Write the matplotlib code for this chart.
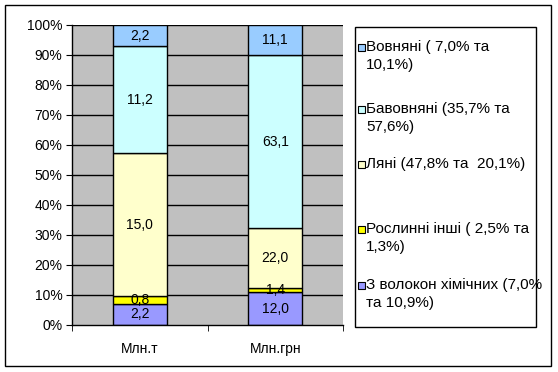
import matplotlib.pyplot as plt
from matplotlib.patches import Rectangle
import numpy as np

plt.rcParams['font.family'] = ['Liberation Sans', 'DejaVu Sans']

categories = ["Млн.т", "Млн.грн"]
series_names = [
    "З волокон хімічних (7,0%\nта 10,9%)",
    "Рослинні інші ( 2,5% та\n1,3%)",
    "Ляні (47,8% та  20,1%)",
    "Бавовняні (35,7% та\n57,6%)",
    "Вовняні ( 7,0% та\n10,1%)",
]
# absolute values per category (bottom to top)
chem = [2.2, 12.0]
plant_other = [0.8, 1.4]
flax = [15.0, 22.0]
cotton = [11.2, 63.1]
wool = [2.2, 11.1]
series = [chem, plant_other, flax, cotton, wool]
colors = ["#9999FF", "#FFFF00", "#FFFFCC", "#CCFFFF", "#99CCFF"]

W, H = 558, 372
fig = plt.figure(figsize=(W / 100, H / 100), dpi=100)
ax = fig.add_axes([72 / W, (H - 325) / H, (343 - 72) / W, 300 / H])
ax.set_facecolor("#C0C0C0")

vals = np.array(series)
totals = vals.sum(axis=0)
shares = vals / totals * 100
x = np.arange(len(categories))

# gridlines behind the bars
for g in range(10, 101, 10):
    ax.axhline(g, color="black", lw=1, zorder=1)

bottom = np.zeros(len(categories))
for s, share, c in zip(vals, shares, colors):
    ax.bar(x, share, bottom=bottom, width=0.4, color=c, edgecolor="black",
           linewidth=1, zorder=2)
    for i in range(len(categories)):
        ax.text(x[i], bottom[i] + share[i] / 2, f"{s[i]:.1f}".replace(".", ","),
                ha="center", va="center", fontsize=10, zorder=3)
    bottom += share

ax.set_xlim(-0.5, 1.5)
ax.set_ylim(0, 100)
ax.set_yticks(range(0, 101, 10))
ax.set_yticklabels([f"{v}%" for v in range(0, 101, 10)], fontsize=10)
ax.set_xticks(x)
ax.set_xticklabels(categories, fontsize=10)
ax.tick_params(axis="x", length=0, pad=12)
ax.set_xticks([-0.5, 0.5, 1.5], minor=True)
ax.tick_params(axis="x", which="minor", length=4, direction="out")
ax.tick_params(axis="y", length=4, direction="out", pad=3)
for sp in ["top", "right"]:
    ax.spines[sp].set_visible(False)
for sp in ["left", "bottom"]:
    ax.spines[sp].set_linewidth(1)

# legend box drawn by hand
fig.patches.append(Rectangle((355 / W, (H - 327) / H), (536 - 355) / W, 300 / H,
                             transform=fig.transFigure, fill=False,
                             edgecolor="black", lw=1))
legend_y = [47, 109, 164, 229, 285]
for name, c, yy in zip(series_names[::-1], colors[::-1], legend_y):
    fig.patches.append(Rectangle((358 / W, (H - yy - 3.5) / H), 7 / W, 7 / H,
                                 transform=fig.transFigure, facecolor=c,
                                 edgecolor="black", lw=0.8))
    for k, line in enumerate(name.split("\n")):
        fig.text(366 / W, (H - yy - 17.5 * k) / H, line, ha="left",
                 va="center", fontsize=11)

# outer border
fig.patches.append(Rectangle((5 / W, 6 / H), 546 / W, 361 / H,
                             transform=fig.transFigure, fill=False,
                             edgecolor="black", lw=1))

fig.savefig("out.png", dpi=100)
